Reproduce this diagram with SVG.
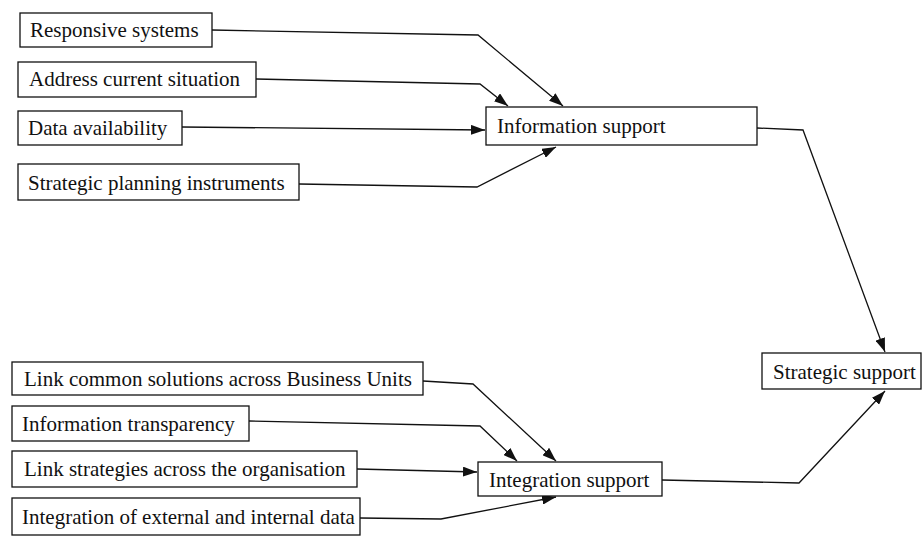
<svg xmlns="http://www.w3.org/2000/svg" width="922" height="543" viewBox="0 0 922 543">
<defs>
<style>
.box{fill:#fff;stroke:#111;stroke-width:1.3}
.t{font-family:"Liberation Serif","Times New Roman",serif;font-size:21px;fill:#111}
.c{fill:none;stroke:#111;stroke-width:1.3;marker-end:url(#ah)}
</style>
<marker id="ah" markerUnits="userSpaceOnUse" markerWidth="14" markerHeight="10" viewBox="0 0 14 10" refX="14" refY="5" orient="auto">
<path d="M0,0 L14,5 L0,10 Z" fill="#111"/>
</marker>
</defs>
<rect width="922" height="543" fill="#fff"/>
<g id="connectors">
<path class="c" d="M212,30 L478,35 L563,106"/>
<path class="c" d="M256,79 L480,84 L508,106"/>
<path class="c" d="M182,127 L485,130"/>
<path class="c" d="M299,184 L477,187 L556,147"/>
<path class="c" d="M757,128 L803,130 L885,352"/>
<path class="c" d="M423,381 L473,384 L556,461"/>
<path class="c" d="M249,421 L480,426 L517,461"/>
<path class="c" d="M357,469 L477,472"/>
<path class="c" d="M360,518 L441,519 L556,497"/>
<path class="c" d="M662,480 L799,483 L885,391"/>
</g>
<g id="n-responsive"><rect class="box" x="20" y="13" width="192" height="34"/><text class="t" x="30" y="37">Responsive systems</text></g>
<g id="n-address"><rect class="box" x="18" y="62" width="238" height="35"/><text class="t" x="29" y="86">Address current situation</text></g>
<g id="n-data"><rect class="box" x="18" y="111" width="164" height="34"/><text class="t" x="28" y="135">Data availability</text></g>
<g id="n-planning"><rect class="box" x="18" y="164" width="281" height="36"/><text class="t" x="28" y="190">Strategic planning instruments</text></g>
<g id="n-info"><rect class="box" x="486" y="107" width="271" height="38"/><text class="t" x="497" y="133">Information support</text></g>
<g id="n-strategic"><rect class="box" x="762" y="353" width="159" height="36"/><text class="t" x="773" y="379">Strategic support</text></g>
<g id="n-linkcommon"><rect class="box" x="12" y="362" width="411" height="33"/><text class="t" x="24" y="386">Link common solutions across Business Units</text></g>
<g id="n-transparency"><rect class="box" x="12" y="406" width="237" height="35"/><text class="t" x="22" y="431">Information transparency</text></g>
<g id="n-linkstrat"><rect class="box" x="12" y="451" width="345" height="36"/><text class="t" x="24" y="476">Link strategies across the organisation</text></g>
<g id="n-extint"><rect class="box" x="12" y="498" width="348" height="37"/><text class="t" x="22" y="524">Integration of external and internal data</text></g>
<g id="n-integration"><rect class="box" x="478" y="462" width="184" height="34"/><text class="t" x="489" y="487">Integration support</text></g>
</svg>
